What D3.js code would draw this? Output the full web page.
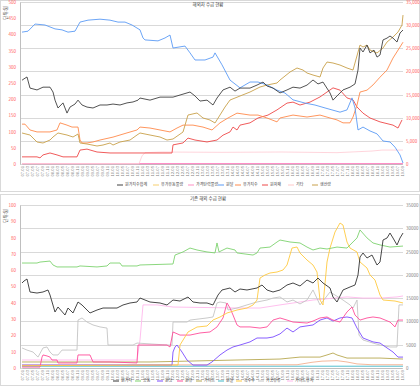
<!DOCTYPE html>
<html>
<head>
<meta charset="utf-8">
<script src="https://cdn.jsdelivr.net/npm/d3@7"></script>
<style>
  body { margin: 0; background: #fff; }
  text { font-family: "Noto Sans CJK KR", "Noto Sans", sans-serif; }
</style>
</head>
<body>
<svg id="chart" width="420" height="386"></svg>
<script>
// x labels (2 months each)
var tickLabels = ("07.01 07.03 07.05 07.07 07.09 07.11 08.01 08.03 08.05 08.07 08.09 08.11 " +
  "09.01 09.03 09.05 09.07 09.09 09.11 10.01 10.03 10.05 10.07 10.09 10.11 " +
  "11.01 11.03 11.05 11.07 11.09 11.11 12.01 12.03 12.05 12.07 12.09 12.11 " +
  "13.01 13.03 13.05 13.07 13.09 13.11 14.01 14.03 14.05 14.07 14.09 14.11 " +
  "15.01 15.03 15.05 15.07 15.09 15.11 16.01 16.03 16.05 16.07 16.09 16.11 " +
  "17.01 17.03 17.05 17.07 17.09 17.11 18.01 18.03 18.05 18.07 18.09 18.11 " +
  "19.01 19.03 19.05 19.07 19.09").split(" ");

var topTitle = "해외차 수급 현황";
var botTitle = "기존 해외 수급 현황";
var unitLabel = "단위:원";

var topNames = ["원가지수합계", "유가유동물량", "가격탄력물량", "원달", "유가지수", "원자재", "기타", "생산량"];
var topColors = ["#404040", "#f7cf6e", "#ff8fc4", "#5b9bf5", "#ff8a4c", "#ee4848", "#ffc8c8", "#c8a04a"];
var botNames = ["원가지", "공동", "원당", "원유", "가이드", "원달", "옥수수", "가공유류", "가이드유지"];
var botColors = ["#333333", "#7ed36f", "#7a4dff", "#ff4d9a", "#b8a850", "#40b8c8", "#ffc940", "#c4c4c4", "#ffb8ec"];

// top chart series: [label index, value]
var topBlack = [[0,18100],[0.4,18400],[1,18800],[1.6,16400],[3,16000],[4.2,16600],[5.6,16600],[6.2,15550],[6.6,13800],[7.2,12100],[8.2,13200],[9,11000],[9.6,12300],[10.6,12950],[11.2,13800],[12,12750],[13,12300],[14.2,12100],[15.6,12750],[17,12750],[18.2,12950],[19.6,12750],[21,13200],[22.2,13400],[23.2,13800],[23.6,14250],[25.6,13800],[27.6,14450],[30.2,14450],[31.6,14900],[33.6,15550],[34.6,14700],[35.6,13600],[37,13800],[38.2,12750],[39,14250],[40.2,16000],[41.6,16600],[42.6,15750],[43.6,16400],[45.6,16400],[47,17050],[48.2,17700],[49,16850],[50.2,16400],[51.6,15350],[53,16000],[54.2,16600],[55.6,16400],[57,17050],[58.2,18150],[59.2,17300],[60.2,17700],[61.6,15350],[62.2,13800],[63,14700],[64.2,16000],[65.6,16600],[66.6,17300],[67.2,20300],[67.6,25050],[68.2,24200],[69,25700],[69.6,24000],[70.4,24600],[71,23100],[71.6,23550],[72.2,26800],[73,27200],[73.6,27650],[74.2,27200],[75,26350],[75.6,28300],[76.2,28950]];
var topBrown = [[0,6700],[1.6,6260],[3,4750],[4.2,4540],[5.6,5180],[6.2,5830],[7.2,6700],[9,6260],[10.2,5830],[11.2,6480],[11.6,4540],[13,4320],[15,3890],[16.2,4100],[17.6,4540],[18.2,4100],[19.6,4750],[21.6,5180],[23,6260],[23.6,6700],[25.6,6260],[27.6,5830],[29,5180],[30.2,5400],[32.2,6910],[33.2,10580],[35,11020],[36.2,9940],[37.6,9500],[38.6,8860],[39.6,10580],[40.6,12310],[41.6,13820],[43.6,14690],[45.6,15550],[47.6,16630],[49,17060],[51,17500],[51.6,18140],[53.6,19870],[55,20740],[56.2,20300],[57,19660],[58.2,19220],[59.6,18790],[60.2,20740],[61,22030],[62.2,21820],[63.6,21380],[65,20740],[66.2,20300],[67.6,25700],[68.2,25270],[69,25700],[69.6,24620],[71,23980],[72.2,25060],[73,26350],[74.2,27430],[75.2,28510],[76,30020],[76.2,32180]];
var topBlue = [[0,407],[1.2,410],[2.6,432],[4.6,429],[6.6,417],[8,414],[9.2,407],[10.6,410],[11.6,438],[13.2,444],[15.6,447],[17.6,444],[19.2,438],[20.6,438],[22,429],[23.6,414],[24.2,389],[24.6,383],[27.2,380],[28.6,389],[29.6,398],[30.2,358],[32.6,364],[33.6,343],[34.6,321],[36.6,321],[38.2,330],[38.6,343],[40,306],[41.6,259],[43.6,235],[45.6,253],[47.2,253],[49,244],[51,228],[52.6,219],[54.2,198],[56.6,188],[58.6,182],[60.6,173],[63.6,160],[65,167],[66,204],[66.6,173],[67.2,105],[68.2,114],[69.6,102],[71,93],[72.2,71],[73.6,68],[74.6,52],[75.6,28],[76.2,3]];
var topOrange = [[0,123],[0.6,123],[1.6,105],[3,99],[5.6,99],[7,105],[7.6,127],[9,120],[10,114],[11.2,114],[11.6,74],[12,65],[13,65],[14.2,68],[15.6,74],[18.2,83],[21,96],[23,105],[23.6,114],[25.6,111],[27.6,105],[29.6,99],[31,111],[32.2,120],[34.2,120],[36.2,114],[38,105],[39.6,127],[41.2,142],[43,157],[45.6,151],[47.2,151],[49,142],[51,130],[51.6,142],[54.2,151],[57,145],[59.6,151],[61.6,142],[63,136],[64.2,127],[65.6,127],[66.2,145],[67,182],[67.6,222],[69,228],[70.2,244],[71.6,268],[73,290],[74.2,327],[75.6,361],[76.2,376]];
var topRed = [[0,22],[3,22],[3.6,19],[4.2,28],[5.6,34],[7,28],[8.2,22],[11,22],[11.6,43],[13,46],[15,37],[17.6,34],[21,34],[23.6,34],[30,34],[30.2,59],[32.2,65],[33.2,80],[34.6,74],[37,68],[39,74],[40.2,89],[41.6,99],[42.2,114],[43,105],[43.6,120],[45.6,127],[47.2,142],[49.2,151],[51,167],[53,188],[54.2,191],[55.6,182],[57.6,191],[59.6,207],[62.2,235],[63.6,228],[65,204],[66.2,198],[67,176],[68.2,157],[69.6,142],[71.6,130],[74.2,120],[75.2,111],[76,136]];
var topLightPink = [[0,1],[23.4,1],[24,25],[24.6,35],[28,37],[40,36],[52,37],[63,35],[70,40],[72,43],[76.2,43]];
var topMagenta = [[0,1],[76.2,1]];

// bottom chart series
var botBlack = [[0,18250],[0.4,18680],[1,19110],[1.6,16320],[3,16100],[4.2,16320],[5.2,16750],[5.6,15670],[6.6,12020],[7.2,13100],[8.6,11380],[9.2,12880],[10.2,11810],[11.2,14170],[12,13530],[12.6,12880],[13.6,11810],[15,12450],[16.2,12880],[17.6,12880],[19,12880],[20.2,13530],[21.6,13960],[23,14170],[23.6,15030],[25.6,14170],[27.6,13960],[29,13530],[30.2,14600],[31.6,14380],[33.2,15240],[34.2,14170],[35.6,13960],[37,13960],[38.2,13530],[39.2,15670],[40,16750],[41.6,17180],[42.6,16320],[43.6,16960],[45,16750],[47,17180],[48,17820],[49,16750],[50.2,16320],[51.6,16750],[53,17820],[54.2,18250],[55.6,17610],[57,18890],[58.2,18250],[59.2,19320],[60.2,18250],[61.6,17180],[62.2,15240],[63,14170],[64.2,16750],[65.6,17390],[66.6,17820],[67.2,19970],[67.6,23830],[68.2,24690],[69,23620],[70,24260],[71,22110],[71.6,22760],[72,25760],[72.2,27480],[73,27910],[73.6,28980],[74.2,27910],[75,26410],[75.6,27910],[76.2,28980]];
var botGreen = [[0,64.4],[3,64.4],[3.6,65],[5.6,65.6],[6.2,63.2],[7,62],[11,62],[11.6,62.6],[15,62],[17,62.6],[17.6,64.4],[19.6,64.4],[20,62.6],[23,62.6],[23.6,63.2],[30.2,63.8],[30.6,69.3],[32.2,71.2],[33.6,73.6],[35,72.4],[37,71.2],[38.6,70.6],[39,76.7],[39.4,71.2],[41,73.6],[42.6,72.4],[43,70.6],[46.2,69.3],[47,70.6],[47.6,73.6],[49.6,74.2],[51,77.3],[51.6,78.5],[53.6,77.3],[55.6,76.7],[57,74.2],[58.2,72.4],[59.6,73.6],[61,73],[63,74.2],[65,73.6],[67,79.8],[67.6,84.7],[69,79.8],[70.2,76.7],[71.6,75.5],[73.6,74.2],[76.2,74.8]];
var botYellow = [[0,500],[31.2,640],[31.6,4940],[33.2,7730],[35,8800],[37,9020],[38.2,10310],[39.6,10950],[41,11810],[43,12450],[45,12880],[46.2,13530],[47,14600],[47.6,19320],[48.6,19970],[49.6,20400],[51,20610],[52.2,21040],[53,22110],[54,25760],[55,25980],[55.6,24690],[57,23190],[58.2,22110],[59,20610],[59.6,14600],[60.2,13530],[61,22760],[61.6,25760],[62.6,29200],[63.6,31130],[64.2,30700],[65,27050],[65.6,25760],[67,24900],[67.6,22760],[69,21470],[69.6,19970],[70.6,18890],[71.6,15670],[72.2,14600],[74.6,14380],[76.2,13960]];
var botGray = [[0,12.3],[1,11],[2.2,9.8],[3.2,6.7],[4.2,12.3],[5,12.9],[5.6,9.8],[6.2,8],[7.2,8],[8,11],[11,11],[11.2,29.4],[12,30.7],[13,28.2],[14.2,26.4],[15.6,25.2],[17,24.5],[17.2,14.1],[22.2,14.1],[23,15.3],[29,14.1],[30,14.1],[30.2,28.2],[33,28.2],[33.6,29.4],[37,30.7],[38.2,31.3],[39,39.9],[39.6,40.5],[40.8,39.9],[41.2,35.6],[43,36.8],[45,38.7],[47,40.5],[49,41.7],[50.2,42.9],[51.6,43.6],[53,40.5],[54.2,41.7],[55.6,39.3],[57,41.7],[58.2,47.9],[59.6,38.7],[61.6,46.6],[63.6,42.9],[64.2,41.7],[65.6,38.7],[66.2,36.8],[67,41.7],[67.4,20.2],[68.2,17.2],[70.2,15.3],[71.6,14.1],[73.6,12.9],[75,12.9],[75.4,38.7],[76.2,38.7]];
var botPink = [[0,0.6],[3.6,0.6],[4,6.7],[4.2,8],[5,7.4],[5.6,6.7],[6,4.9],[7,4.9],[7.2,3.1],[11,3.1],[11.2,8],[13.6,8],[14.2,3.7],[17.6,3.7],[23,3.1],[23.2,14.1],[29,14.1],[29.6,12.9],[30.2,22.1],[31.6,20.2],[33.6,20.2],[35.6,21.5],[37.6,22.1],[39,25.2],[40.2,30.7],[41,39.9],[41.6,36.8],[42.2,32.5],[43,26.4],[43.6,25.2],[45.6,25.2],[47.6,24.5],[49,25.2],[50.2,29.4],[51.6,30.7],[53,29.4],[54.2,28.2],[57,27.6],[58.2,28.8],[59.6,30.7],[61,31.3],[62.2,29.4],[63.6,28.2],[65,34.4],[66,37.4],[66.6,32.5],[67.6,29.4],[69,30.7],[70.2,31.3],[71.6,30.7],[73.6,28.2],[74.6,25.2],[75.2,29.4],[76.2,29.4]];
var botPurple = [[0,1.8],[30,1.8],[30.2,9.8],[30.6,12.9],[31,14.1],[32,9.8],[33,4.9],[34.2,1.8],[37,1.8],[38,3.7],[39.6,8],[41,11],[42.2,12.9],[43.6,14.1],[45.6,16],[47,18.4],[49,18.4],[50.2,19],[51.6,20.9],[53,24.5],[54.2,22.1],[55.6,25.2],[58.2,26.4],[59.6,29.4],[61,30.7],[62.2,28.8],[63.6,30.7],[65,31.3],[66,30.7],[67,24.5],[68.2,18.4],[70.2,16],[71.6,15.3],[73,12.3],[74.2,9.8],[75.2,6.7],[76.2,6.7]];
var botLightPink = [[0,4.9],[23,4.9],[23.6,17.2],[24.2,38.7],[27,38.7],[30.2,37.4],[43.6,36.8],[47.6,36.8],[51.6,38.7],[55.6,40.5],[58.2,41.7],[65,43.6],[68.2,42.9],[71.6,42.9],[75,43.6],[76.2,44.2]];
var botOlive = [[0,3.7],[25.6,3.7],[51.6,5.5],[55.6,6.7],[59.6,6.7],[61,8],[62.2,9.2],[63,8],[65,6.1],[68.2,6.1],[71.6,6.1],[76.2,5.5]];
var botSalmon = [[0,1.8],[55,2],[58,3.5],[60,4.2],[63,4.5],[65,3.7],[67,2.5],[70,2],[76.2,2]];
var botTeal = [[0,1.1],[76.2,1.1]];

var svg = d3.select("#chart");

var drawPanel = function(p) {
  var g = svg.append("g");
  g.append("rect")
    .attr("x", 0.5).attr("y", p.top + 0.5)
    .attr("width", 419).attr("height", p.height - 1)
    .attr("fill", "#fff").attr("stroke", "#d9d9d9");

  var x = d3.scaleLinear().domain([0, tickLabels.length - 1]).range([22, 402]);
  var xLab = d3.scalePoint().domain(tickLabels).range([22, 402]);
  var yL = d3.scaleLinear().domain([0, p.leftMax]).range([p.y0, p.y1]);
  var yR = d3.scaleLinear().domain([0, 35000]).range([p.y0, p.y1]);

  // gridlines follow the right axis
  g.append("g").selectAll("line")
    .data(yR.ticks(7))
    .enter().append("line")
      .attr("x1", 20).attr("x2", 403)
      .attr("y1", function(d) { return Math.round(yR(d)) + 0.5; })
      .attr("y2", function(d) { return Math.round(yR(d)) + 0.5; })
      .attr("stroke", "#d9d9d9").attr("stroke-width", 1);

  // left axis
  var la = g.append("g").attr("transform", "translate(20,0)")
    .call(d3.axisLeft(yL).tickValues(d3.range(0, p.leftMax + 1, p.leftStep)).tickSize(0).tickPadding(4));
  la.select(".domain").attr("stroke", "#bfbfbf");
  la.selectAll("text").attr("font-size", "4.5px").attr("fill", "#ff5a5a").attr("font-family", "Noto Sans CJK KR");

  // right axis
  var ra = g.append("g").attr("transform", "translate(403,0)")
    .call(d3.axisRight(yR).ticks(7).tickFormat(d3.format(p.rightFmt)).tickSize(0).tickPadding(3));
  ra.select(".domain").remove();
  ra.selectAll("text").attr("font-size", "4.5px").attr("fill", p.rightColor).attr("font-family", "Noto Sans CJK KR");

  // x axis
  var xa = g.append("g").attr("transform", "translate(0," + p.y0 + ")")
    .call(d3.axisBottom(xLab).tickSize(0));
  xa.select(".domain").attr("stroke", "#bfbfbf");
  xa.selectAll("text")
    .attr("transform", "rotate(-90)")
    .attr("text-anchor", "end")
    .attr("x", -2).attr("y", 0).attr("dy", "0.35em")
    .attr("font-size", "4.2px").attr("fill", "#7f7f7f").attr("font-family", "Noto Sans CJK KR");

  // unit title
  g.append("text")
    .attr("transform", "translate(7," + (p.y1 + 4) + ") rotate(-90)")
    .attr("text-anchor", "end")
    .attr("font-size", "4.5px").attr("fill", "#404040")
    .text(unitLabel);

  // chart title
  g.append("text")
    .attr("x", 208).attr("y", p.top + 6)
    .attr("text-anchor", "middle")
    .attr("font-size", "4.5px").attr("fill", "#404040")
    .text(p.title);

  // lines
  p.series.forEach(function(s) {
    var yy = s.axis == "R" ? yR : yL;
    var line = d3.line()
      .x(function(d) { return x(d[0]); })
      .y(function(d) { return yy(d[1]); });
    g.append("path")
      .datum(s.data)
      .attr("d", line)
      .attr("fill", "none")
      .attr("stroke", s.color)
      .attr("stroke-width", 0.9)
      .attr("stroke-linejoin", "round");
  });

  // legend, item starts taken from the original layout
  var lg = g.append("g").attr("transform", "translate(0," + p.legendY + ")");
  p.names.forEach(function(n, i) {
    var cx = p.legendX[i];
    lg.append("line")
      .attr("x1", cx).attr("x2", cx + 6)
      .attr("y1", 0).attr("y2", 0)
      .attr("stroke", p.colors[i]).attr("stroke-width", 1);
    lg.append("text")
      .attr("x", cx + 8).attr("y", 0).attr("dy", "0.35em")
      .attr("font-size", "4px").attr("fill", "#404040")
      .text(n);
  });
};

drawPanel({
  top: 0, height: 192, y0: 164, y1: 2,
  leftMax: 500, leftStep: 50,
  rightFmt: ",", rightColor: "#ff5a5a",
  title: topTitle,
  names: topNames, colors: topColors,
  legendX: [117, 153, 188, 218, 235, 262, 288, 312], legendY: 185,
  series: [
    {data: topMagenta, color: "#ff66b3", axis: "L"},
    {data: topLightPink, color: "#ffd0d8", axis: "L"},
    {data: topRed, color: "#ee4848", axis: "L"},
    {data: topOrange, color: "#ff8a4c", axis: "L"},
    {data: topBrown, color: "#c8a04a", axis: "R"},
    {data: topBlue, color: "#5b9bf5", axis: "L"},
    {data: topBlack, color: "#404040", axis: "R"}
  ]
});

drawPanel({
  top: 194, height: 192, y0: 368, y1: 205,
  leftMax: 100, leftStep: 10,
  rightFmt: "d", rightColor: "#7f7f7f",
  title: botTitle,
  names: botNames, colors: botColors,
  legendX: [113, 135, 157, 177, 196, 218, 236, 258, 287], legendY: 381,
  series: [
    {data: botTeal, color: "#40b8c8", axis: "L"},
    {data: botSalmon, color: "#f4b090", axis: "L"},
    {data: botOlive, color: "#b8a850", axis: "L"},
    {data: botLightPink, color: "#ffb8ec", axis: "L"},
    {data: botGray, color: "#c4c4c4", axis: "L"},
    {data: botPurple, color: "#7a4dff", axis: "L"},
    {data: botPink, color: "#ff4d9a", axis: "L"},
    {data: botYellow, color: "#ffc940", axis: "R"},
    {data: botGreen, color: "#7ed36f", axis: "L"},
    {data: botBlack, color: "#333333", axis: "R"}
  ]
});
</script>
</body>
</html>
